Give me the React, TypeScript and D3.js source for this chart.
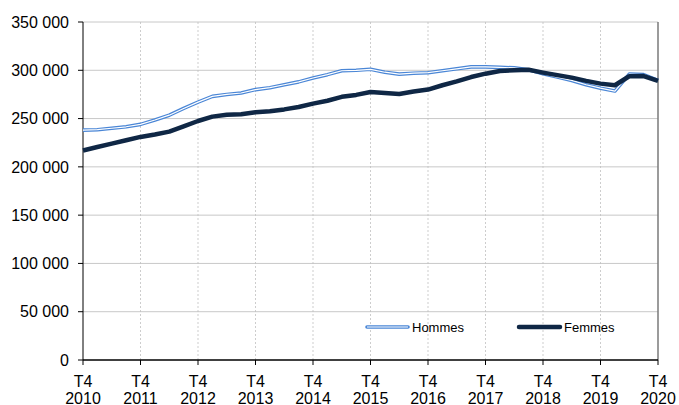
import { useEffect, useRef } from 'react';
import * as d3 from 'd3';

// Quarterly values, T4 2010 -> T4 2020
const hommes = [
  238000, 238500, 240000, 241500, 244000, 248500, 253500, 260500, 267000, 273000,
  275000, 276500, 280000, 282000, 285000, 288000, 292000, 295500, 299500, 300000,
  301000, 298000, 296000, 297000, 297500, 299500, 301500, 303500, 303500, 303000,
  302500, 300500, 296500, 293000, 289500, 285000, 281500, 278500, 296000, 295500,
  289500,
];
const femmes = [
  217000, 220500, 224000, 227500, 231000, 233500, 236500, 242000, 247500, 252000,
  254000, 254500, 256500, 257500, 259500, 262000, 265500, 268500, 272500, 274500,
  277500, 276500, 275500, 278000, 280000, 284500, 288500, 293000, 296500, 299300,
  300000, 300500, 297600, 295000, 292400, 289000, 286200, 284500, 293800, 294000,
  289000,
];
const years = ['2010', '2011', '2012', '2013', '2014', '2015', '2016', '2017', '2018', '2019', '2020'];
const yTicks = [0, 50000, 100000, 150000, 200000, 250000, 300000, 350000];

const W = 679;
const H = 405;
const FONT = 'Liberation Sans, Arial, sans-serif';

export default function App() {
  const ref = useRef<SVGSVGElement>(null);

  useEffect(() => {
    document.body.style.margin = '0';
    const svg = d3.select(ref.current);
    svg.selectAll('*').remove();

    const x = d3.scaleLinear().domain([0, hommes.length - 1]).range([83, 658]);
    const y = d3.scaleLinear().domain([0, 350000]).range([360, 22]);
    const fmt = d3.formatLocale({ decimal: ',', thousands: ' ', grouping: [3], currency: ['', ''] }).format(',d');

    // horizontal grid
    svg.append('g')
      .selectAll('line')
      .data(yTicks.slice(1))
      .enter()
      .append('line')
      .attr('x1', x(0))
      .attr('x2', x(40))
      .attr('y1', (d) => y(d))
      .attr('y2', (d) => y(d))
      .attr('stroke', '#c8c8c8')
      .attr('stroke-width', 1);

    // vertical dotted grid
    svg.append('g')
      .selectAll('line')
      .data(years.slice(1, -1).map((_, i) => (i + 1) * 4))
      .enter()
      .append('line')
      .attr('x1', (d) => x(d))
      .attr('x2', (d) => x(d))
      .attr('y1', y(350000))
      .attr('y2', y(0))
      .attr('stroke', '#c0c0c0')
      .attr('stroke-width', 0.8)
      .attr('stroke-dasharray', '2,2');

    // right border
    svg.append('line')
      .attr('x1', x(40)).attr('x2', x(40))
      .attr('y1', y(350000)).attr('y2', y(0))
      .attr('stroke', '#7a7a7a').attr('stroke-width', 1.5);

    // left axis
    const yAxis = svg.append('g');
    yAxis.append('line')
      .attr('x1', x(0)).attr('x2', x(0))
      .attr('y1', y(350000)).attr('y2', y(0))
      .attr('stroke', '#000').attr('stroke-width', 1);
    yTicks.forEach((t) => {
      yAxis.append('line')
        .attr('x1', x(0) - 5).attr('x2', x(0))
        .attr('y1', y(t)).attr('y2', y(t))
        .attr('stroke', '#000');
      yAxis.append('text')
        .attr('x', 69)
        .attr('y', y(t))
        .attr('dy', '0.36em')
        .attr('text-anchor', 'end')
        .attr('font-family', FONT)
        .attr('font-size', 16)
        .attr('fill', '#000')
        .text(fmt(t));
    });

    // bottom axis
    const xAxis = svg.append('g');
    xAxis.append('line')
      .attr('x1', x(0)).attr('x2', x(40))
      .attr('y1', y(0)).attr('y2', y(0))
      .attr('stroke', '#000').attr('stroke-width', 1.5);
    years.forEach((yr, i) => {
      const px = x(i * 4);
      xAxis.append('line')
        .attr('x1', px).attr('x2', px)
        .attr('y1', y(0)).attr('y2', y(0) + 5)
        .attr('stroke', '#000');
      xAxis.append('text')
        .attr('x', px).attr('y', 387)
        .attr('text-anchor', 'middle')
        .attr('font-family', FONT).attr('font-size', 16)
        .text('T4');
      xAxis.append('text')
        .attr('x', px).attr('y', 404)
        .attr('text-anchor', 'middle')
        .attr('font-family', FONT).attr('font-size', 16)
        .text(yr);
    });

    const line = d3.line<number>()
      .x((_, i) => x(i))
      .y((d) => y(d));

    // Hommes: double line
    svg.append('path').datum(hommes).attr('d', line)
      .attr('fill', 'none').attr('stroke', '#4a86d6').attr('stroke-width', 3.6)
      .attr('stroke-linejoin', 'round');
    svg.append('path').datum(hommes).attr('d', line)
      .attr('fill', 'none').attr('stroke', '#fff').attr('stroke-width', 1.2)
      .attr('stroke-linejoin', 'round');

    // Femmes: thick navy
    svg.append('path').datum(femmes).attr('d', line)
      .attr('fill', 'none').attr('stroke', '#0f2745').attr('stroke-width', 4.5)
      .attr('stroke-linejoin', 'round');

    // legend
    const lg = svg.append('g');
    const ly = 327;
    lg.append('line').attr('x1', 367).attr('x2', 408).attr('y1', ly).attr('y2', ly)
      .attr('stroke', '#4a86d6').attr('stroke-width', 3.6).attr('stroke-linecap', 'round');
    lg.append('line').attr('x1', 367).attr('x2', 408).attr('y1', ly).attr('y2', ly)
      .attr('stroke', '#fff').attr('stroke-width', 1.2);
    lg.append('text').attr('x', 412).attr('y', ly).attr('dy', '0.36em')
      .attr('font-family', FONT).attr('font-size', 13).text('Hommes');
    lg.append('line').attr('x1', 519).attr('x2', 560).attr('y1', ly).attr('y2', ly)
      .attr('stroke', '#0f2745').attr('stroke-width', 4.5).attr('stroke-linecap', 'round');
    lg.append('text').attr('x', 564).attr('y', ly).attr('dy', '0.36em')
      .attr('font-family', FONT).attr('font-size', 13).text('Femmes');
  }, []);

  return <svg ref={ref} width={W} height={H} style={{ display: 'block', background: '#fff' }} />;
}
